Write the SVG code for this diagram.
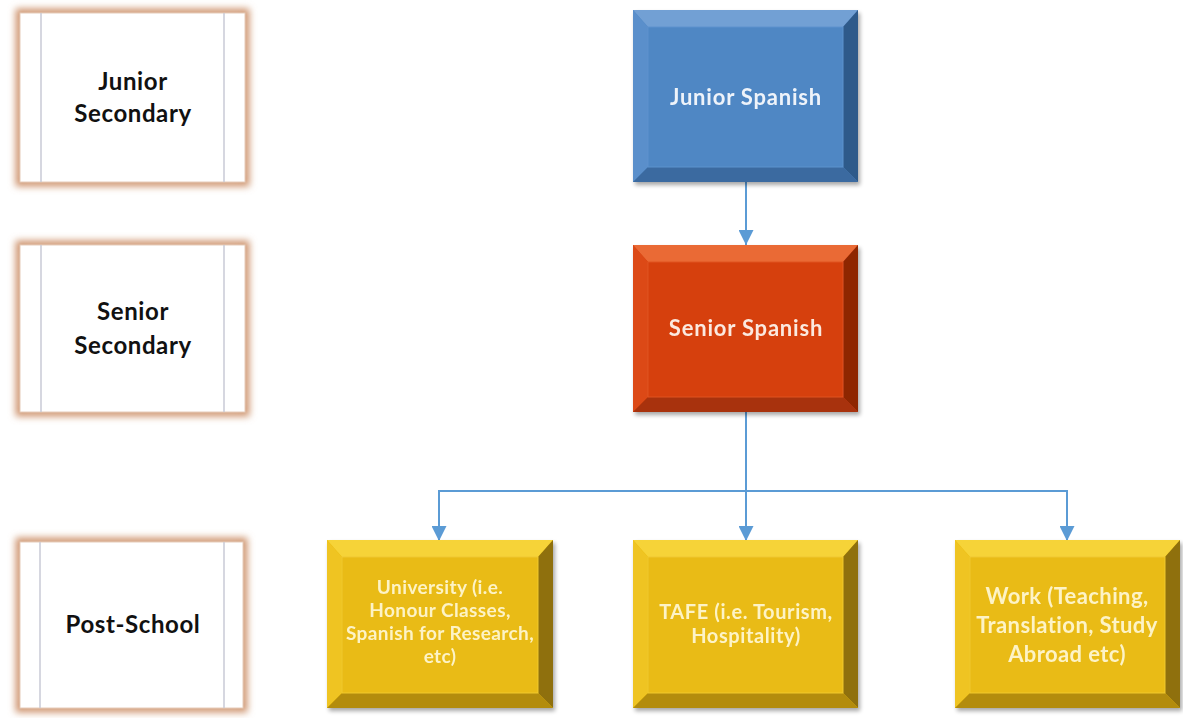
<svg xmlns="http://www.w3.org/2000/svg" width="1183" height="718" viewBox="0 0 1183 718">
<defs>
<style>
.lbl{font-family:Lato,"Liberation Sans",sans-serif;font-weight:bold;fill:#111;font-size:24px;letter-spacing:0.6px;text-anchor:middle}
.wt{font-family:Lato,"Liberation Sans",sans-serif;font-weight:bold;text-anchor:middle}
.conn{stroke:#5b9bd5;stroke-width:2;fill:none}
.glow{fill:none;stroke:#cf9570;stroke-width:9}
.card{fill:#fff;stroke:#e6cbb9;stroke-width:1}
.sep{stroke:#c9cad6;stroke-width:1.5}
</style>
<filter id="blur" x="-20%" y="-20%" width="140%" height="140%"><feGaussianBlur stdDeviation="3.5"/></filter>
<filter id="sh" x="-10%" y="-10%" width="125%" height="125%"><feGaussianBlur in="SourceAlpha" stdDeviation="2"/><feOffset dx="2" dy="3"/><feComponentTransfer><feFuncA type="linear" slope="0.35"/></feComponentTransfer><feMerge><feMergeNode/><feMergeNode in="SourceGraphic"/></feMerge></filter>
<marker id="arr" viewBox="0 0 10 10" refX="10" refY="5" markerWidth="7.5" markerHeight="7.5" markerUnits="strokeWidth" orient="auto"><path d="M0,0 L10,5 L0,10 z" fill="#5b9bd5"/></marker>
</defs>

<g id="junior-secondary">
<rect class="glow" x="20" y="13" width="225" height="169" filter="url(#blur)"/>
<rect class="card" x="20" y="13" width="225" height="169"/>
<line class="sep" x1="41" y1="13" x2="41" y2="182"/>
<line class="sep" x1="224" y1="13" x2="224" y2="182"/>
<text class="lbl" x="133" y="90">Junior</text>
<text class="lbl" x="133" y="122">Secondary</text>
</g>

<g id="senior-secondary">
<rect class="glow" x="20" y="245" width="225" height="167" filter="url(#blur)"/>
<rect class="card" x="20" y="245" width="225" height="167"/>
<line class="sep" x1="41" y1="245" x2="41" y2="412"/>
<line class="sep" x1="224" y1="245" x2="224" y2="412"/>
<text class="lbl" x="133" y="320">Senior</text>
<text class="lbl" x="133" y="354">Secondary</text>
</g>

<g id="post-school">
<rect class="glow" x="20" y="542" width="223" height="166" filter="url(#blur)"/>
<rect class="card" x="20" y="542" width="223" height="166"/>
<line class="sep" x1="40" y1="542" x2="40" y2="708"/>
<line class="sep" x1="224" y1="542" x2="224" y2="708"/>
<text class="lbl" x="133" y="633">Post-School</text>
</g>

<g id="connectors">
<line class="conn" x1="746" y1="182" x2="746" y2="245" marker-end="url(#arr)"/>
<polyline class="conn" points="746,412 746,491"/>
<polyline class="conn" points="439,540 439,491 1067,491 1067,540"/>
<line class="conn" x1="439" y1="500" x2="439" y2="541" marker-end="url(#arr)"/>
<line class="conn" x1="746" y1="491" x2="746" y2="541" marker-end="url(#arr)"/>
<line class="conn" x1="1067" y1="500" x2="1067" y2="541" marker-end="url(#arr)"/>
</g>

<g id="junior-spanish" filter="url(#sh)">
<rect x="633" y="10" width="225" height="172" fill="#4f86c3"/>
<polygon points="633,10 858,10 843,27 648,27" fill="#72a0d4"/>
<polygon points="633,10 648,27 648,167 633,182" fill="#5a8fcb"/>
<polygon points="858,10 858,182 843,167 843,27" fill="#2f5a8a"/>
<polygon points="633,182 858,182 843,167 648,167" fill="#3b6aa0"/>
<rect x="648" y="27" width="195" height="140" fill="#4f87c4" stroke="#5c92cd" stroke-width="1"/>
<text class="wt" x="746" y="105" font-size="22" letter-spacing="0.8" fill="#eef3fa">Junior Spanish</text>
</g>

<g id="senior-spanish" filter="url(#sh)">
<rect x="633" y="245" width="225" height="167" fill="#d53e0c"/>
<polygon points="633,245 858,245 843,262 648,262" fill="#ea6a35"/>
<polygon points="633,245 648,262 648,397 633,412" fill="#dc4a15"/>
<polygon points="858,245 858,412 843,397 843,262" fill="#8e2806"/>
<polygon points="633,412 858,412 843,397 648,397" fill="#a83008"/>
<rect x="648" y="262" width="195" height="135" fill="#d63f0b" stroke="#e05420" stroke-width="1"/>
<text class="wt" x="746" y="336" font-size="22" letter-spacing="0.8" fill="#fbe9df">Senior Spanish</text>
</g>

<g id="university" filter="url(#sh)">
<rect x="327" y="540" width="226" height="168" fill="#e8b914"/>
<polygon points="327,540 553,540 538,557 342,557" fill="#f6d338"/>
<polygon points="327,540 342,557 342,693 327,708" fill="#efc420"/>
<polygon points="553,540 553,708 538,693 538,557" fill="#8f7007"/>
<polygon points="327,708 553,708 538,693 342,693" fill="#b38c09"/>
<rect x="342" y="557" width="196" height="136" fill="#e9bb15" stroke="#f0c830" stroke-width="1"/>
<g class="wt" font-size="19" letter-spacing="0.4" fill="#fdf3c6">
<text x="440" y="594">University (i.e.</text>
<text x="440" y="617">Honour Classes,</text>
<text x="440" y="640">Spanish for Research,</text>
<text x="440" y="663">etc)</text>
</g>
</g>

<g id="tafe" filter="url(#sh)">
<rect x="633" y="540" width="225" height="168" fill="#e8b914"/>
<polygon points="633,540 858,540 843,557 648,557" fill="#f6d338"/>
<polygon points="633,540 648,557 648,693 633,708" fill="#efc420"/>
<polygon points="858,540 858,708 843,693 843,557" fill="#8f7007"/>
<polygon points="633,708 858,708 843,693 648,693" fill="#b38c09"/>
<rect x="648" y="557" width="195" height="136" fill="#e9bb15" stroke="#f0c830" stroke-width="1"/>
<g class="wt" font-size="20" letter-spacing="0.6" fill="#fdf3c6">
<text x="746" y="619">TAFE (i.e. Tourism,</text>
<text x="746" y="643">Hospitality)</text>
</g>
</g>

<g id="work" filter="url(#sh)">
<rect x="955" y="540" width="225" height="168" fill="#e8b914"/>
<polygon points="955,540 1180,540 1165,557 970,557" fill="#f6d338"/>
<polygon points="955,540 970,557 970,693 955,708" fill="#efc420"/>
<polygon points="1180,540 1180,708 1165,693 1165,557" fill="#8f7007"/>
<polygon points="955,708 1180,708 1165,693 970,693" fill="#b38c09"/>
<rect x="970" y="557" width="195" height="136" fill="#e9bb15" stroke="#f0c830" stroke-width="1"/>
<g class="wt" font-size="22" letter-spacing="0.4" fill="#fdf3c6">
<text x="1067" y="604">Work (Teaching,</text>
<text x="1067" y="633">Translation, Study</text>
<text x="1067" y="662">Abroad etc)</text>
</g>
</g>
</svg>
